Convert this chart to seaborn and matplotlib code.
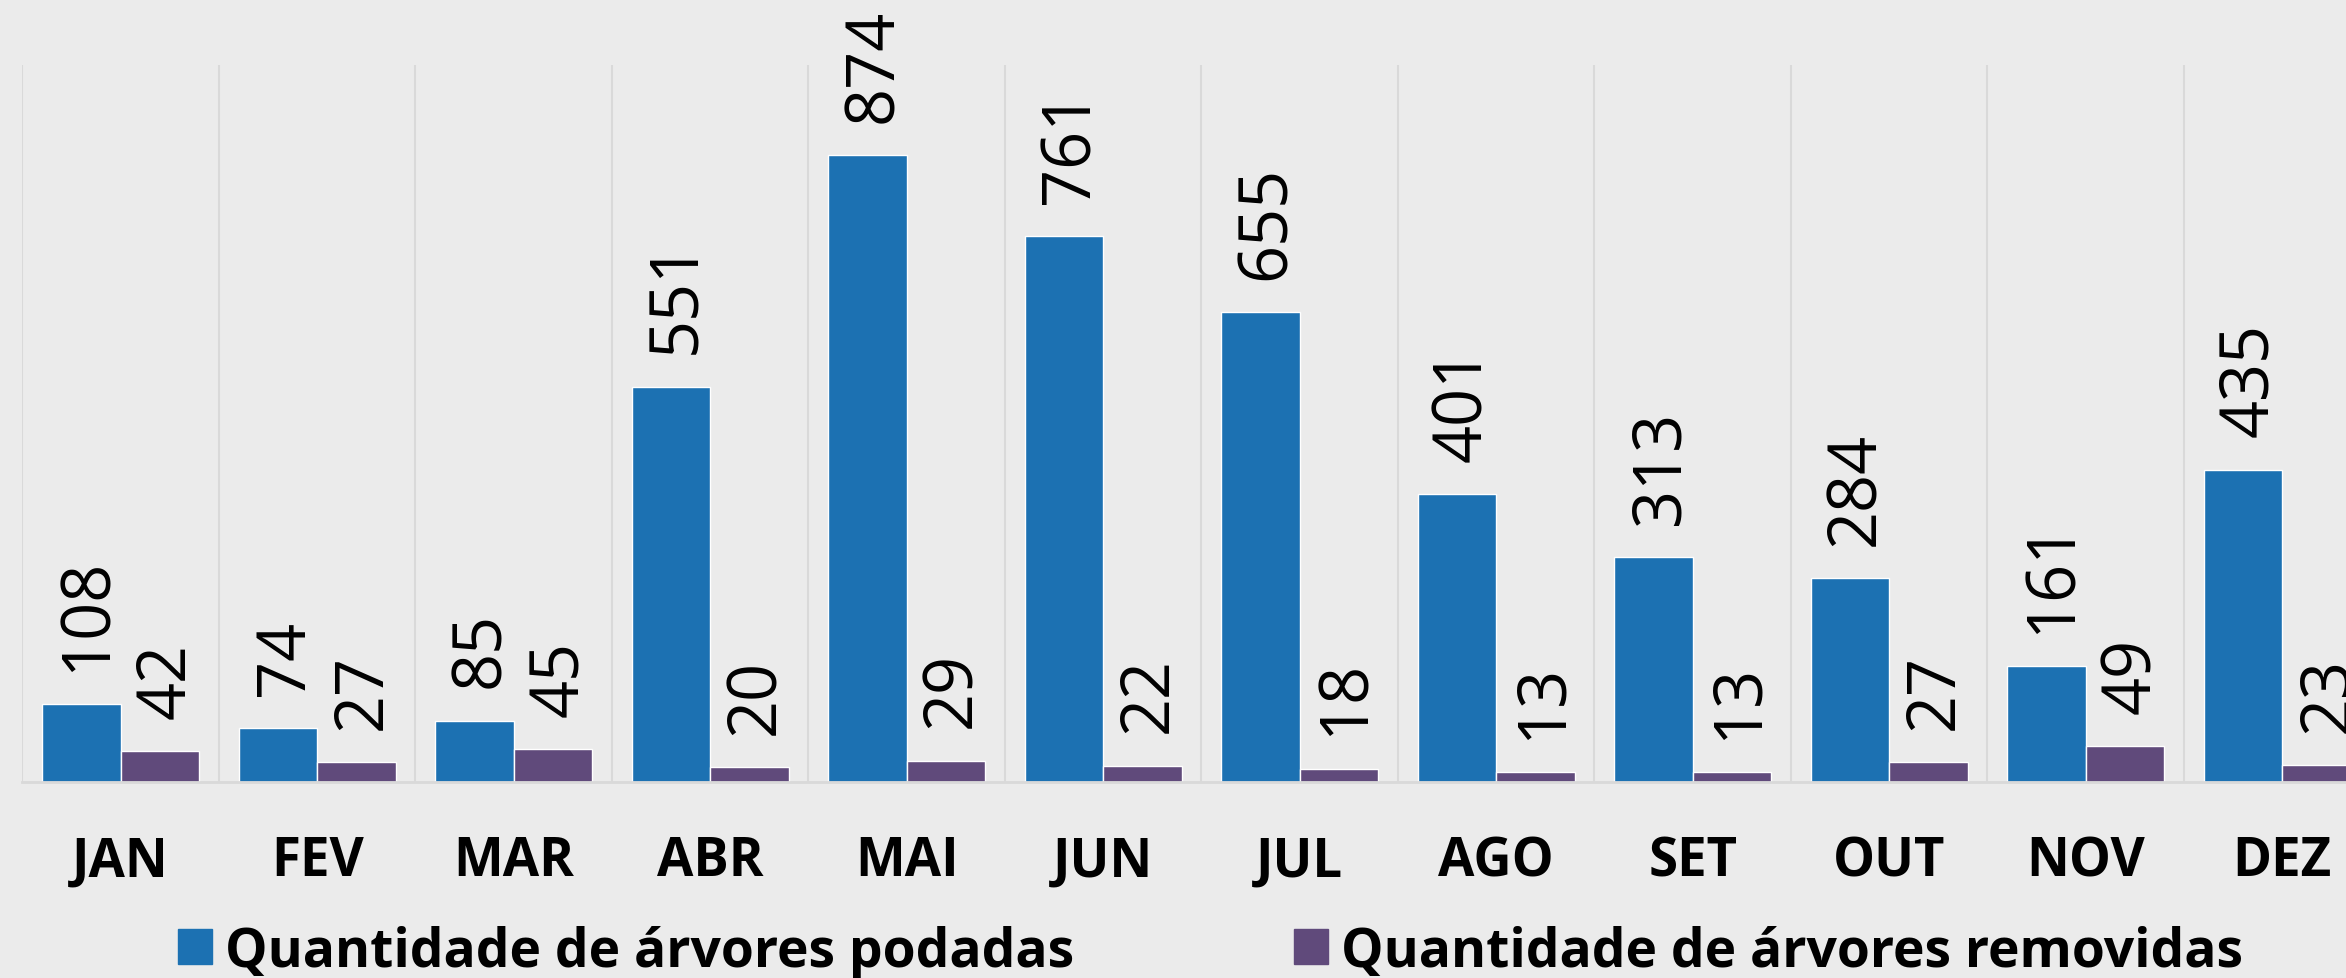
import numpy as np
import pandas as pd
import matplotlib
matplotlib.use("Agg")
import matplotlib.pyplot as plt
import seaborn as sns

# data
meses = ["JAN", "FEV", "MAR", "ABR", "MAI", "JUN", "JUL", "AGO", "SET", "OUT", "NOV", "DEZ"]
podadas = [108, 74, 85, 551, 874, 761, 655, 401, 313, 284, 161, 435]
removidas = [42, 27, 45, 20, 29, 22, 18, 13, 13, 27, 49, 23]
series = ["Quantidade de árvores podadas", "Quantidade de árvores removidas"]

BLUE = "#1C71B2"
PURPLE = "#604A7B"
BG = "#EBEBEB"

sns.set_style("white")
plt.rcParams["font.family"] = ["Open Sans", "DejaVu Sans"]
plt.rcParams["text.color"] = "black"
plt.rcParams["xtick.color"] = "black"

df = pd.DataFrame({
    "mes": meses * 2,
    "valor": podadas + removidas,
    "serie": [series[0]] * len(meses) + [series[1]] * len(meses),
})

W, H = 2346, 979
fig = plt.figure(figsize=(W / 100, H / 100), dpi=100, facecolor=BG)
# the plot area runs past the right edge, like the cropped original
ax = fig.add_axes([22.4 / W, (H - 782.5) / H, 12 * 196.5 / W, (782.5 - 66) / H])
ax.set_facecolor(BG)

sns.barplot(data=df, x="mes", y="valor", hue="serie", palette=[BLUE, PURPLE],
            width=0.8, saturation=1, legend=False, ax=ax)

# rotated value labels above each bar
for cont in ax.containers:
    for bar in cont:
        h = bar.get_height()
        ax.annotate(f"{h:.0f}", (bar.get_x() + bar.get_width() / 2, h),
                    xytext=(5, 24), textcoords="offset points",
                    rotation=90, ha="center", va="bottom", fontsize=48, color="black")

ax.set_ylim(0, 1000)
ax.set_xlim(-0.5, len(meses) - 0.5)
ax.set_xlabel("")
ax.set_ylabel("")
ax.set_yticks([])
ax.set_xticks(range(len(meses)))
ax.set_xticklabels(meses, fontsize=38, fontweight="bold")
ax.tick_params(axis="x", length=0, pad=38)

# vertical separators between months
ax.set_xticks(np.arange(-0.5, len(meses), 1), minor=True)
ax.tick_params(axis="x", which="minor", length=0)
ax.grid(axis="x", which="minor", color="#D9D9D9", linewidth=1.5)
ax.grid(axis="x", which="major", visible=False)
ax.set_axisbelow(True)

for s in ["top", "right", "left"]:
    ax.spines[s].set_visible(False)
ax.spines["bottom"].set_color("#D9D9D9")
ax.spines["bottom"].set_linewidth(2)

handles = [plt.Rectangle((0, 0), 1, 1, color=BLUE), plt.Rectangle((0, 0), 1, 1, color=PURPLE)]
fig.legend(handles, series, loc="center", bbox_to_anchor=(0.516, 0.027), ncol=2,
           frameon=False, prop={"size": 38.5, "weight": "bold"},
           handlelength=0.64, handleheight=0.64, handletextpad=0.25, columnspacing=4.1,
           borderaxespad=0, borderpad=0)

fig.savefig("out.png", dpi=100, facecolor=BG)
